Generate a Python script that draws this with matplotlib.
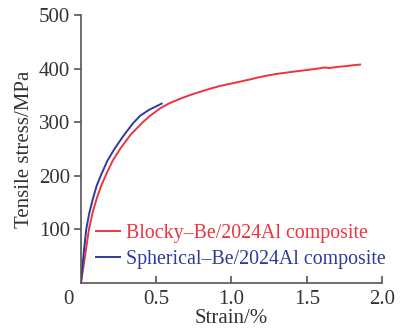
import matplotlib
matplotlib.use("Agg")
import matplotlib.pyplot as plt

plt.rcParams['font.family'] = ['Liberation Serif', 'DejaVu Serif']

# Stress-strain data
blocky_strain = [0, 0.027, 0.053, 0.078, 0.105, 0.135, 0.168, 0.21, 0.264, 0.33, 0.41,
                 0.458, 0.525, 0.59, 0.658, 0.72, 0.791, 0.86, 0.924, 0.99, 1.056, 1.12, 1.178,
                 1.24, 1.30, 1.38, 1.45, 1.52, 1.588, 1.62, 1.65, 1.70, 1.76, 1.80, 1.854]
blocky_stress = [0, 50, 100, 132, 158, 182, 203, 228, 252, 277, 300,
                 312, 326, 336, 344, 350.5, 357, 363, 368, 372, 376, 380, 384,
                 387.5, 390.5, 393.5, 396, 398.5, 401, 402.5, 401.5, 403.5, 405, 406.5, 408]

spherical_strain = [0, 0.018, 0.035, 0.055, 0.08, 0.105, 0.131, 0.175, 0.224, 0.28, 0.345,
                    0.392, 0.45, 0.50, 0.536]
spherical_stress = [0, 55, 100, 130, 158, 182, 200, 228, 251, 274, 298,
                    312, 323, 330, 335]

labels = ['Blocky\u2013Be/2024Al composite', 'Spherical\u2013Be/2024Al composite']
colors = ['#ee3340', '#2d3c9c']

x_ticks = [0.5, 1.0, 1.5, 2.0]
y_ticks = [100, 200, 300, 400, 500]

fig = plt.figure(figsize=(4.13, 3.29), dpi=100)
ax = fig.add_axes([0.196, 0.140, 0.729, 0.8135])

ax.plot(blocky_strain, blocky_stress, color=colors[0], lw=1.4, label=labels[0])
ax.plot(spherical_strain, spherical_stress, color=colors[1], lw=1.4, label=labels[1])

ax.set_xlim(0, 2.0)
ax.set_ylim(0, 500)
ax.set_xticks(x_ticks)
ax.set_xticklabels(['0.5', '1.0', '1.5', '2.0'])
ax.set_yticks(y_ticks)

for side in ('top', 'right'):
    ax.spines[side].set_visible(False)
for side in ('left', 'bottom'):
    ax.spines[side].set_color('#555555')
    ax.spines[side].set_linewidth(1.2)

ax.tick_params(axis='x', direction='in', length=5, width=1.2, color='#555555',
               labelsize=15, labelcolor='#333333', pad=5)
ax.tick_params(axis='y', direction='out', length=5, width=1.2, color='#555555',
               labelsize=15, labelcolor='#333333', pad=3)

ax.text(-0.042, -0.028, '0', transform=ax.transAxes, ha='center', va='top',
        fontsize=15, color='#333333')

ax.set_xlabel('Strain/%', fontsize=15, color='#333333', labelpad=0)
ax.set_ylabel('Tensile stress/MPa', fontsize=15, color='#333333', labelpad=3)

leg = ax.legend(loc='lower left', bbox_to_anchor=(0.024, 0.024), frameon=False,
                fontsize=14.3, handlelength=1.2, handletextpad=0.3, labelspacing=0.32,
                borderaxespad=0)
for txt, c in zip(leg.get_texts(), colors):
    txt.set_color(c)

fig.savefig('out.png', dpi=100)
